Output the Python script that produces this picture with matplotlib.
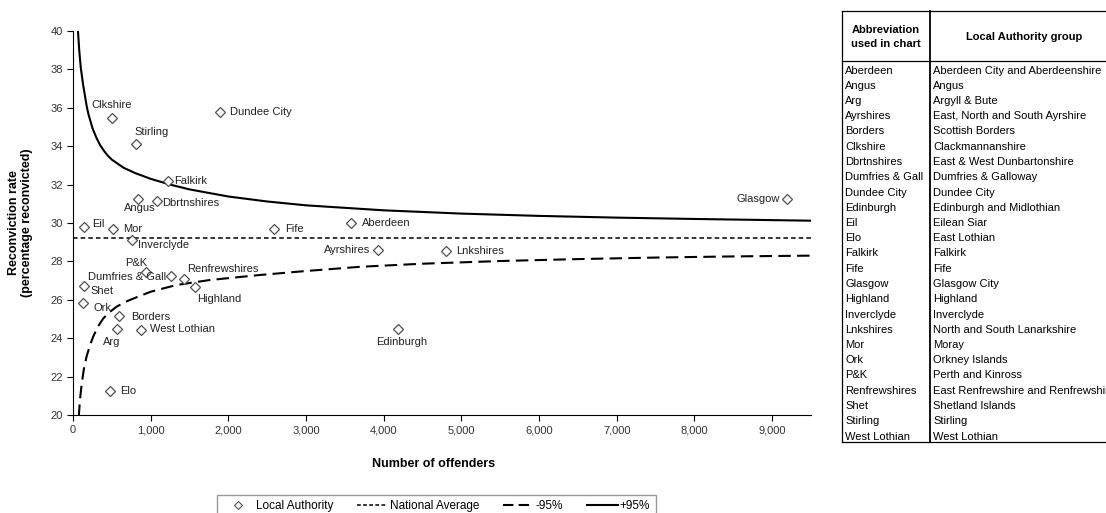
import matplotlib
matplotlib.use("Agg")
import matplotlib.pyplot as plt
from matplotlib.lines import Line2D
from matplotlib.ticker import FuncFormatter

plt.rcParams['font.family'] = ['Liberation Sans', 'DejaVu Sans']

# ── Data ──────────────────────────────────────────────────────────────────────
names = ["Aberdeen", "Angus", "Arg", "Ayrshires", "Borders", "Clkshire",
         "Dbrtnshires", "Dumfries & Gall", "Dundee City", "Edinburgh", "Eil",
         "Elo", "Falkirk", "Fife", "Glasgow", "Highland", "Inverclyde",
         "Lnkshires", "Mor", "Ork", "P&K", "Renfrewshires", "Shet", "Stirling",
         "West Lothian"]
offenders = [3576, 832, 566, 3920, 596, 498, 1080, 1260, 1891, 4185, 146,
             476, 1218, 2589, 9190, 1569, 763, 4800, 519, 124, 939, 1428, 146,
             810, 875]
rates = [30.0, 31.25, 24.5, 28.6, 25.17, 35.45, 31.16, 27.24, 35.8, 24.5,
         29.78, 21.25, 32.2, 29.67, 31.25, 26.68, 29.11, 28.55, 29.67, 25.83,
         27.46, 27.07, 26.73, 34.1, 24.41]

national_avg = 29.2

upper_n = [64, 80, 100, 130, 180, 200, 250, 300, 350, 400, 450, 500, 650,
           800, 1000, 1250, 1500, 2000, 2500, 3000, 4000, 5000, 6000, 7000,
           8000, 9000, 9500]
upper_rate = [40.0, 39.0, 38.1, 37.2, 36.0, 35.65, 34.95, 34.45, 34.05,
              33.75, 33.5, 33.3, 32.88, 32.6, 32.3, 32.0, 31.75, 31.38, 31.12,
              30.92, 30.66, 30.49, 30.37, 30.28, 30.21, 30.15, 30.12]

lower_n = [74, 90, 110, 140, 175, 220, 260, 320, 390, 470, 560, 680, 780,
           1000, 1330, 1760, 2400, 3000, 3700, 4500, 5500, 6500, 7500, 8500,
           9500]
lower_rate = [19.9, 20.8, 21.55, 22.4, 23.05, 23.65, 24.08, 24.6, 25.03,
              25.35, 25.64, 25.9, 26.07, 26.42, 26.77, 27.03, 27.29, 27.5,
              27.72, 27.88, 28.02, 28.12, 28.2, 28.26, 28.3]

full_names = ["Aberdeen City and Aberdeenshire", "Angus", "Argyll & Bute",
              "East, North and South Ayrshire", "Scottish Borders",
              "Clackmannanshire", "East & West Dunbartonshire",
              "Dumfries & Galloway", "Dundee City", "Edinburgh and Midlothian",
              "Eilean Siar", "East Lothian", "Falkirk", "Fife", "Glasgow City",
              "Highland", "Inverclyde", "North and South Lanarkshire", "Moray",
              "Orkney Islands", "Perth and Kinross",
              "East Renfrewshire and Renfrewshire", "Shetland Islands",
              "Stirling", "West Lothian"]

# label placement: (dx, dy in pixels, horizontal alignment)
label_pos = {
    "Aberdeen": (11, 0, "left"), "Angus": (2, -9, "center"),
    "Arg": (-5, -13, "center"), "Ayrshires": (-7, 0, "right"),
    "Borders": (12, -1, "left"), "Clkshire": (0, 13, "center"),
    "Dbrtnshires": (5, -2, "left"), "Dumfries & Gall": (-5, -1, "right"),
    "Dundee City": (10, 0, "left"), "Edinburgh": (4, -13, "center"),
    "Eil": (8, 3, "left"), "Elo": (10, 0, "left"), "Falkirk": (7, 0, "left"),
    "Fife": (11, 0, "left"), "Glasgow": (-7, 0, "right"),
    "Highland": (2, -12, "left"), "Inverclyde": (6, -5, "left"),
    "Lnkshires": (10, 0, "left"), "Mor": (10, 0, "left"),
    "Ork": (11, -5, "left"), "P&K": (1, 9, "right"),
    "Renfrewshires": (3, 10, "left"), "Shet": (6, -5, "left"),
    "Stirling": (-1, 12, "left"), "West Lothian": (9, 1, "left"),
}

# ── Figure ────────────────────────────────────────────────────────────────────
W, H = 1106, 513
fig = plt.figure(figsize=(W / 100, H / 100), dpi=100)
ax = fig.add_axes([73 / W, 1 - 415 / H, (811 - 73) / W, (415 - 31) / H])

ax.plot(upper_n, upper_rate, color="black", lw=1.5, solid_joinstyle="round")
ax.plot(lower_n, lower_rate, color="black", lw=1.5, dashes=(6, 3))
ax.axhline(national_avg, color="black", lw=1.1, dashes=(3, 2))
ax.plot(offenders, rates, linestyle="none", marker="D", ms=5,
        mfc="white", mec="#505050", mew=0.9, zorder=3)

for name, x, y in zip(names, offenders, rates):
    dx, dy, ha = label_pos[name]
    ax.annotate(name, (x, y), xytext=(dx, dy), textcoords="offset pixels",
                ha=ha, va="center", fontsize=8, color="#222222")

ax.set_xlim(0, 9500)
ax.set_ylim(20, 40)
ax.set_xticks(range(0, 9001, 1000))
ax.set_yticks(range(20, 41, 2))
ax.xaxis.set_major_formatter(FuncFormatter(lambda v, p: f"{int(v):,}"))
ax.tick_params(labelsize=8, colors="#333333", length=4, width=0.8)
ax.tick_params(axis="both", color="black")
for s in ["top", "right"]:
    ax.spines[s].set_visible(False)
for s in ["left", "bottom"]:
    ax.spines[s].set_linewidth(0.8)

ax.set_ylabel("Reconviction rate\n(percentage reconvicted)", fontsize=9,
              fontweight="bold", labelpad=12)
fig.text(434 / W, 1 - 464 / H, "Number of offenders", ha="center",
         va="center", fontsize=9, fontweight="bold")

# ── Legend ────────────────────────────────────────────────────────────────────
handles = [
    Line2D([], [], linestyle="none", marker="D", ms=4, mfc="white",
           mec="#505050", mew=0.8),
    Line2D([], [], color="black", lw=1.1, dashes=(2.5, 1.5)),
    Line2D([], [], color="black", lw=1.5, dashes=(5, 2.5)),
    Line2D([], [], color="black", lw=1.5),
]
fig.legend(handles, ["Local Authority", "National Average", "-95%", "+95%"],
           loc="upper center", bbox_to_anchor=(436.5 / W, 1 - 489 / H),
           ncol=4, fontsize=8.5, frameon=True, fancybox=False,
           edgecolor="#808080", handlelength=2.6, handletextpad=0.2,
           columnspacing=2.0, borderpad=0.45)

# ── Abbreviation table ────────────────────────────────────────────────────────
tax = fig.add_axes([0, 0, 1, 1])
tax.set_xlim(0, W)
tax.set_ylim(H, 0)
tax.set_axis_off()

left, mid, right = 842, 930, 1120
top, head, bottom = 11, 61, 442
kw = dict(color="black", lw=0.9)
tax.plot([left, right], [top, top], **kw)
tax.plot([left, right], [head, head], **kw)
tax.plot([left, right], [bottom, bottom], **kw)
tax.plot([left, left], [top, bottom], **kw)
tax.plot([mid, mid], [top, bottom], color="black", lw=1.3)

tax.text((left + mid) / 2, 37, "Abbreviation\nused in chart", ha="center",
         va="center", fontsize=8, fontweight="bold", linespacing=1.4)
tax.text(1024, 37, "Local Authority group", ha="center", va="center",
         fontsize=8, fontweight="bold")

row_h = 15.25
for i, (ab, full) in enumerate(zip(names, full_names)):
    y = 70.5 + i * row_h
    tax.text(left + 3, y, ab, ha="left", va="center", fontsize=8)
    tax.text(mid + 3, y, full, ha="left", va="center", fontsize=8)

fig.savefig("out.png", dpi=100)
